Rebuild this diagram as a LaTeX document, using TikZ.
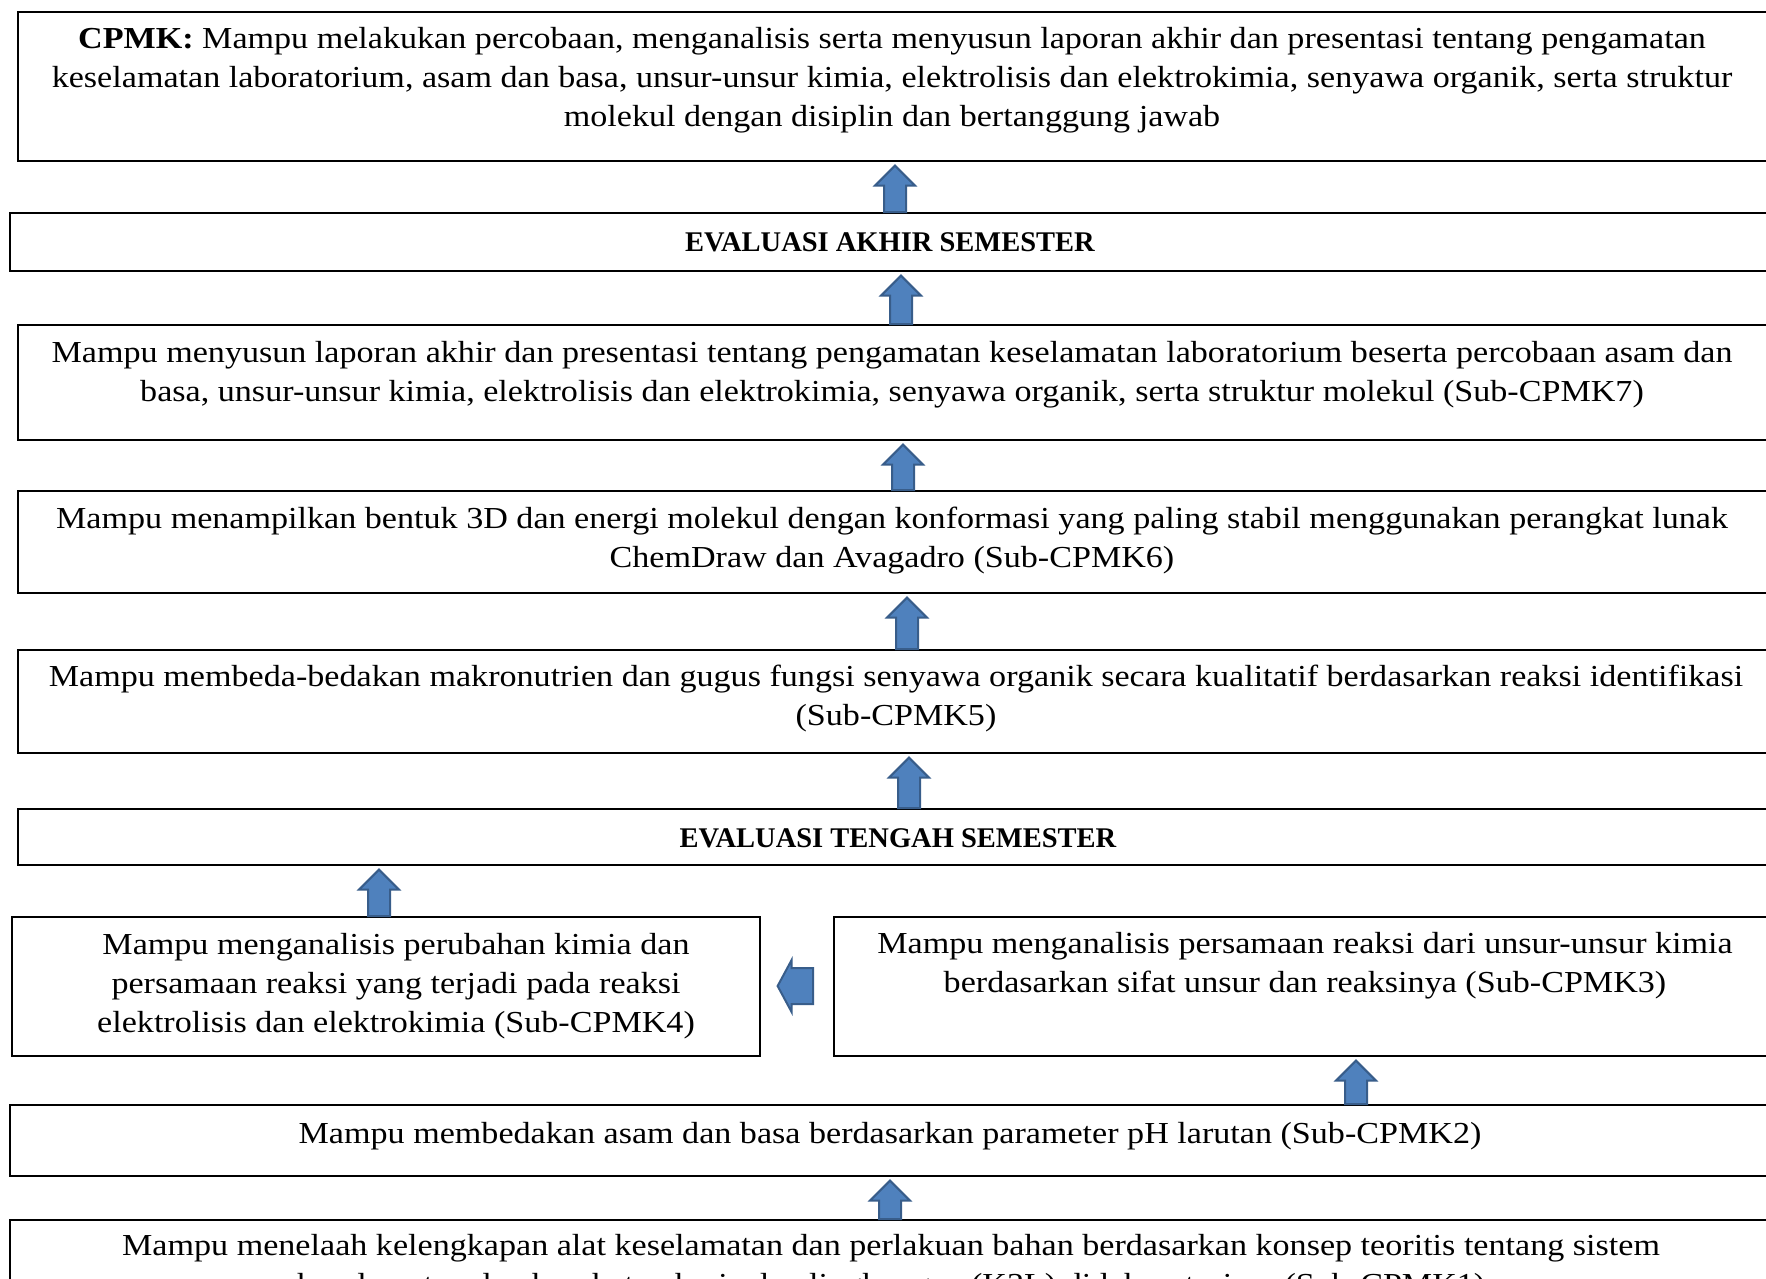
\documentclass[tikz,border=0pt]{standalone}
\usepackage{fontspec}
\setmainfont{Liberation Serif}[FakeStretch=1.118]
\newfontfamily\hdfont{Liberation Serif}
\usetikzlibrary{calc}
\definecolor{arrfill}{HTML}{4F81BD}
\definecolor{arrline}{HTML}{385D8A}
\tikzset{
  box/.style={draw=black, line width=1.6pt, anchor=north west, inner sep=0pt},
  txt/.style={align=center, inner sep=0pt, font=\fontsize{30.5}{39}\selectfont},
  hdtxt/.style={inner sep=0pt, font=\hdfont\bfseries\fontsize{28.5}{39}\selectfont},
  blk/.style={fill=arrfill, draw=arrline, line width=2pt, line join=miter}
}
\newcommand\blkup[3]{%
  \path[blk] let \p1=(#2.north), \p2=(#3.south) in
    ({(#1-11)*1pt},\y1) -- ({(#1-11)*1pt},{\y2-24pt}) -- ({(#1-20)*1pt},{\y2-24pt})
    -- ({#1*1pt},{\y2-4pt}) -- ({(#1+20)*1pt},{\y2-24pt}) -- ({(#1+11)*1pt},{\y2-24pt})
    -- ({(#1+11)*1pt},\y1) -- cycle;}
\begin{document}
\begin{tikzpicture}[x=1pt,y=-1pt]
\useasboundingbox[fill=white] (0,0) rectangle (1766,1279);
% boxes
\node[box, minimum width=1755, minimum height=149] (b1) at (17,11) {};
\node[box, minimum width=1763, minimum height=58] (b2) at (9,212) {};
\node[box, minimum width=1755, minimum height=115] (b3) at (17,324) {};
\node[box, minimum width=1755, minimum height=102] (b4) at (17,490) {};
\node[box, minimum width=1755, minimum height=103] (b5) at (17,649) {};
\node[box, minimum width=1755, minimum height=56] (b6) at (17,808) {};
\node[box, minimum width=748, minimum height=139] (b7) at (11,916) {};
\node[box, minimum width=945, minimum height=139] (b8) at (833,916) {};
\node[box, minimum width=1763, minimum height=71] (b9) at (9,1104) {};
\node[box, minimum width=1763, minimum height=120] (b10) at (9,1219) {};
% texts
\node[txt] (t1) at (892,80) {\textbf{CPMK:} Mampu melakukan percobaan, menganalisis serta menyusun laporan akhir dan presentasi tentang pengamatan\\
keselamatan laboratorium, asam dan basa, unsur-unsur kimia, elektrolisis dan elektrokimia, senyawa organik, serta struktur\\
molekul dengan disiplin dan bertanggung jawab};
\node[hdtxt] (t2) at (890,242) {EVALUASI AKHIR SEMESTER};
\node[txt] (t3) at (892,375) {Mampu menyusun laporan akhir dan presentasi tentang pengamatan keselamatan laboratorium beserta percobaan asam dan\\
basa, unsur-unsur kimia, elektrolisis dan elektrokimia, senyawa organik, serta struktur molekul (Sub-CPMK7)};
\node[txt] (t4) at (892,541) {Mampu menampilkan bentuk 3D dan energi molekul dengan konformasi yang paling stabil menggunakan perangkat lunak\\
ChemDraw dan Avagadro (Sub-CPMK6)};
\node[txt] (t5) at (896,699) {Mampu membeda-bedakan makronutrien dan gugus fungsi senyawa organik secara kualitatif berdasarkan reaksi identifikasi\\
(Sub-CPMK5)};
\node[hdtxt] (t6) at (898,838) {EVALUASI TENGAH SEMESTER};
\node[txt] (t7) at (396,986) {Mampu menganalisis perubahan kimia dan\\
persamaan reaksi yang terjadi pada reaksi\\
elektrolisis dan elektrokimia (Sub-CPMK4)};
\node[txt] (t8) at (1305,966) {Mampu menganalisis persamaan reaksi dari unsur-unsur kimia\\
berdasarkan sifat unsur dan reaksinya (Sub-CPMK3)};
\node[txt] (t9) at (890,1136) {Mampu membedakan asam dan basa berdasarkan parameter pH larutan (Sub-CPMK2)};
\node[txt] (t10) at (891,1268) {Mampu menelaah kelengkapan alat keselamatan dan perlakuan bahan berdasarkan konsep teoritis tentang sistem\\
keselamatan dan kesehatan kerja dan lingkungan (K3L) di laboratorium (Sub-CPMK1)};
% arrows
\blkup{895}{b2}{b1}
\blkup{901}{b3}{b2}
\blkup{903}{b4}{b3}
\blkup{907}{b5}{b4}
\blkup{909}{b6}{b5}
\blkup{379}{b7}{b6}
\blkup{1356}{b9}{b8}
\blkup{890}{b10}{b9}
\path[blk] let \p1=(b7.east), \p2=(b8.west), \p3=(b8.west|-t7) in
  ({\x2-20pt},{\y3-18pt}) -- ({\x1+31pt},{\y3-18pt}) -- ({\x1+31pt},{\y3-26pt})
  -- ({\x1+17pt},\y3) -- ({\x1+31pt},{\y3+26pt}) -- ({\x1+31pt},{\y3+18pt})
  -- ({\x2-20pt},{\y3+18pt}) -- cycle;
\end{tikzpicture}
\end{document}
